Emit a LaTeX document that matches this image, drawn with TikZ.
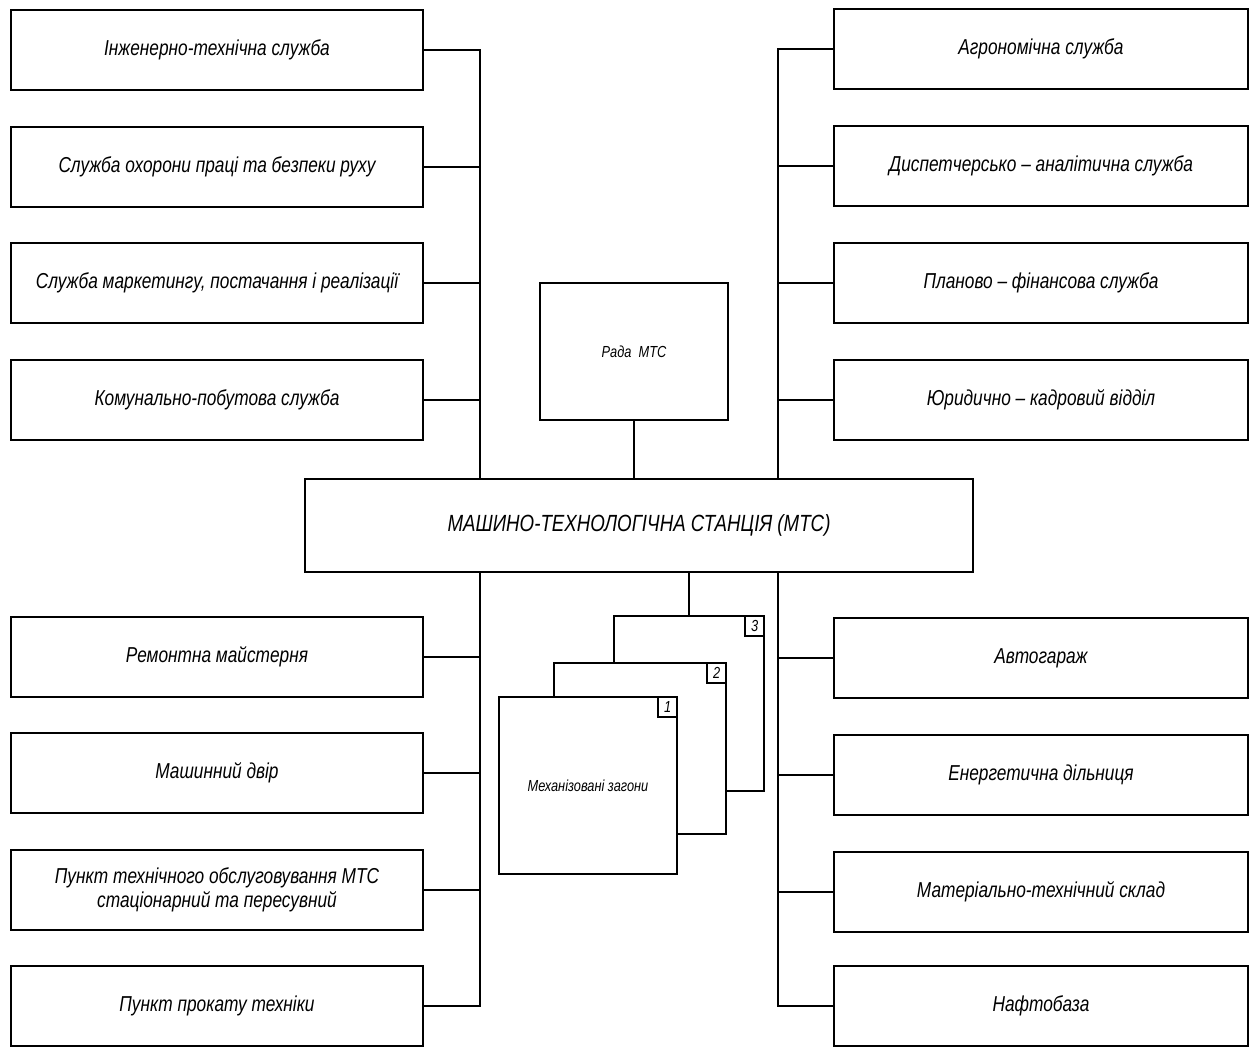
\documentclass[tikz,border=0pt]{standalone}
\usepackage{fontspec}
\setmainfont{Liberation Sans}[FakeStretch=0.8]
\usepackage{tikz}
\usetikzlibrary{calc}

\tikzset{
  box/.style={draw, line width=0.8pt, fill=white, minimum width=206pt, minimum height=40pt,
    inner sep=2pt, align=center, font=\itshape\fontsize{10.8}{12}\selectfont},
  link/.style={line width=0.7pt},
  zahin/.style={draw, line width=0.8pt, fill=white, inner sep=0pt, font=\itshape\fontsize{8}{9}\selectfont},
  numbox/.style={draw, line width=0.7pt, fill=white, minimum width=9.5pt, minimum height=10pt,
    inner sep=0pt, anchor=north east, font=\itshape\fontsize{8}{9}\selectfont}
}

\begin{document}
\begin{tikzpicture}[x=0.5pt, y=-0.5pt]
\useasboundingbox (0,0) rectangle (1253,1047);

% centre and council
\node[box, minimum width=334pt, minimum height=46.5pt, font=\itshape\fontsize{11.7}{13}\selectfont] (mts) at (639,525.5) {МАШИНО-ТЕХНОЛОГІЧНА СТАНЦІЯ (МТС)};
\node[box, minimum width=94pt, minimum height=68.5pt, font=\itshape\fontsize{8}{9}\selectfont] (rada) at (634,351.5) {Рада\ \ МТС};
\draw[link] (rada.south) -- (rada.south |- mts.north);

% bus lines
\coordinate (lb) at (480,0);
\coordinate (rb) at (778,0);

% left services
\foreach \y/\t [count=\i] in {50/{Інженерно-технічна служба},
    167/{Служба охорони праці та безпеки руху},
    283/{Служба маркетингу, постачання і реалізації},
    400/{Комунально-побутова служба},
    657/{Ремонтна майстерня},
    773/{Машинний двір},
    890/{Пункт технічного обслуговування МТС\\стаціонарний та пересувний},
    1006/{Пункт прокату техніки}} {
  \node[box] (l\i) at (217,\y) {\t};
}
% right services
\foreach \y/\t [count=\i] in {49/{Агрономічна служба},
    166/{Диспетчерсько -- аналітична служба},
    283/{Планово -- фінансова служба},
    400/{Юридично -- кадровий відділ},
    658/{Автогараж},
    775/{Енергетична дільниця},
    892/{Матеріально-технічний склад},
    1006/{Нафтобаза}} {
  \node[box, minimum width=207pt] (r\i) at (1041,\y) {\t};
}

\draw[link] (l1.east) -| (mts.north -| lb);
\draw[link] (l8.east) -| (mts.south -| lb);
\draw[link] (r1.west) -| (mts.north -| rb);
\draw[link] (r8.west) -| (mts.south -| rb);
\foreach \i in {2,...,7} {
  \draw[link] (l\i.east) -- (l\i.east -| lb);
  \draw[link] (r\i.west) -- (r\i.west -| rb);
}

% mechanised teams
\node[zahin, minimum width=75pt, minimum height=87.5pt] (m3) at (689,703.5) {};
\node[zahin, minimum width=86pt, minimum height=85.5pt] (m2) at (640,748.5) {};
\node[zahin, minimum width=89pt, minimum height=88.5pt] (m1) at (588,785.5) {Механізовані загони};
\draw[link] (m3.north) -- (m3.north |- mts.south);
\node[numbox] (n3) at (m3.north east) {3};
\node[numbox] (n2) at (m2.north east) {2};
\node[numbox] (n1) at (m1.north east) {1};

\end{tikzpicture}
\end{document}
